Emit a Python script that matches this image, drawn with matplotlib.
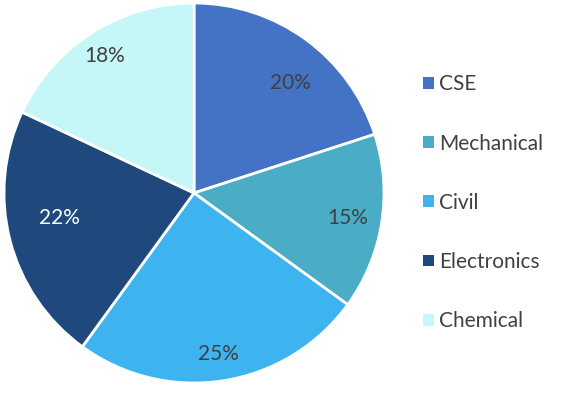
import matplotlib.pyplot as plt
from matplotlib.patches import Patch

branches = ["CSE", "Mechanical", "Civil", "Electronics", "Chemical"]
shares = [20, 15, 25, 22, 18]
colors = ["#4472C4", "#4BACC6", "#3DB4F0", "#1F497D", "#C6F7F8"]
label_colors = ["#404040", "#404040", "#404040", "white", "#404040"]

# label offsets from the pie centre (pie radius = 1), bestfit style
label_pos = [(0.51, 0.58), (0.81, -0.13), (0.13, -0.85), (-0.71, -0.13), (-0.47, 0.72)]

plt.rcParams['font.family'] = ['Lato', 'DejaVu Sans']

fig = plt.figure(figsize=(5.64, 3.93), dpi=100)
ax = fig.add_axes([4 / 564, 10 / 393, 380 / 564, 380 / 393])

wedges, _, autotexts = ax.pie(shares, colors=colors, startangle=90, counterclock=False,
                              autopct='%1.0f%%', radius=1,
                              wedgeprops=dict(edgecolor='white', linewidth=2))
for t, c, p in zip(autotexts, label_colors, label_pos):
    t.set_color(c)
    t.set_fontsize(15)
    t.set_position(p)
ax.set_xlim(-1.0, 1.0)
ax.set_ylim(-1.0, 1.0)
ax.set_aspect('equal')

handles = [Patch(facecolor=c, edgecolor='none') for c in colors]
fig.legend(handles, branches, loc='upper left', bbox_to_anchor=(413 / 564, 1 - 64 / 393),
           frameon=False, fontsize=15, labelspacing=1.88, handlelength=0.5,
           handleheight=0.5, handletextpad=0.25, borderpad=0, labelcolor='#404040')

fig.savefig('out.png', dpi=100)
